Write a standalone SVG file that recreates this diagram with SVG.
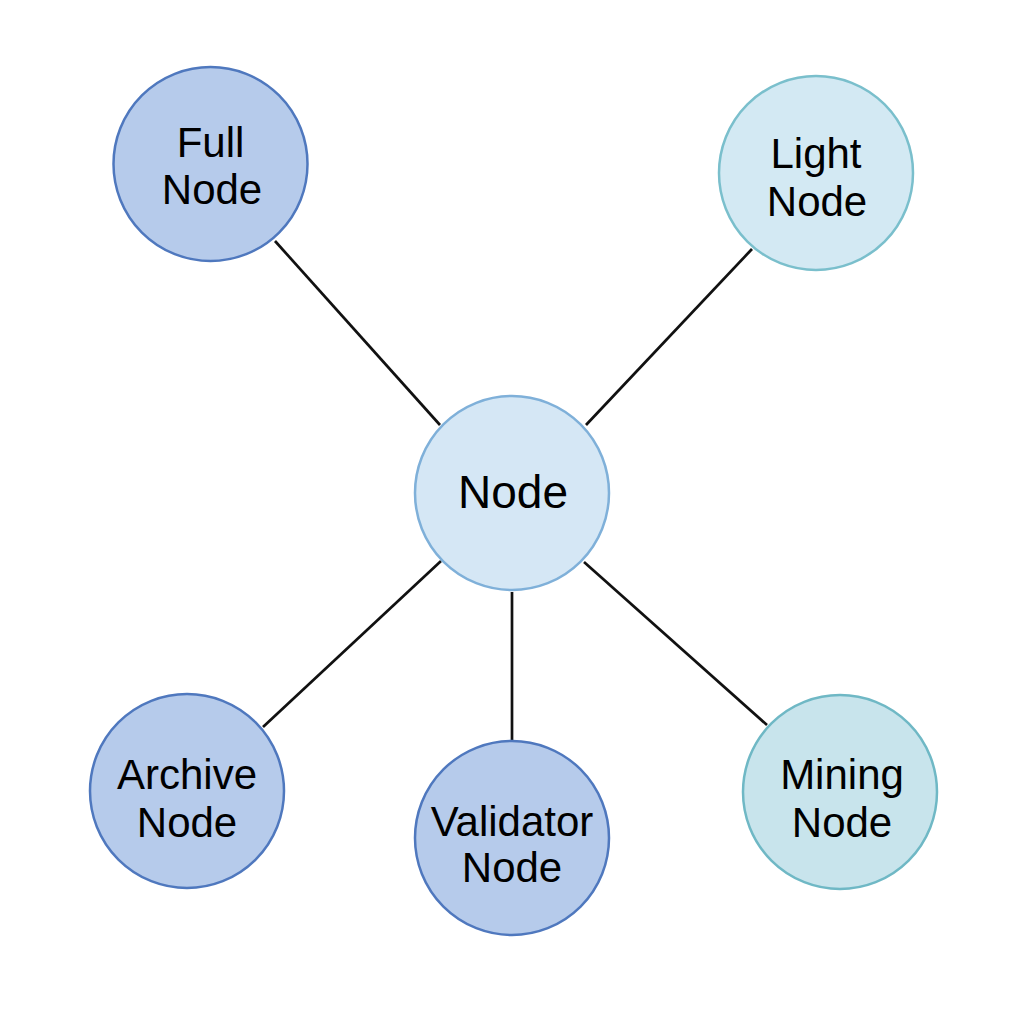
<svg xmlns="http://www.w3.org/2000/svg" width="1024" height="1024" viewBox="0 0 1024 1024">
<style>
.edge{stroke:#111;stroke-width:2.7;fill:none}
.lbl{font-family:"Liberation Sans",Arial,sans-serif;font-size:42px;fill:#000;text-anchor:middle}
.blue{fill:#b6cbeb;stroke:#4f78be;stroke-width:2.5}
.teal{fill:#d3e9f3;stroke:#7abfcc;stroke-width:2.5}
.mint{fill:#c8e4ec;stroke:#6fb8c5;stroke-width:2.5}
.center{fill:#d5e7f5;stroke:#7fb0d9;stroke-width:2.5}
</style>
<rect width="1024" height="1024" fill="#fff"/>
<g id="connectors">
<line class="edge" x1="275" y1="241" x2="440" y2="425"/>
<line class="edge" x1="752" y1="249" x2="586" y2="425"/>
<line class="edge" x1="263" y1="727" x2="441" y2="561"/>
<line class="edge" x1="512" y1="592" x2="512" y2="741"/>
<line class="edge" x1="584" y1="562" x2="767" y2="725"/>
</g>
<g id="full-node">
<circle class="blue" cx="210.5" cy="164" r="97"/>
<text class="lbl" x="210.5" y="157">Full</text>
<text class="lbl" x="212" y="204">Node</text>
</g>
<g id="light-node">
<circle class="teal" cx="816" cy="173" r="97"/>
<text class="lbl" x="816" y="168">Light</text>
<text class="lbl" x="817" y="216">Node</text>
</g>
<g id="node">
<circle class="center" cx="512" cy="493" r="97"/>
<text class="lbl" x="513" y="508" style="font-size:46px">Node</text>
</g>
<g id="archive-node">
<circle class="blue" cx="187" cy="791" r="97"/>
<text class="lbl" x="187" y="789">Archive</text>
<text class="lbl" x="187" y="837">Node</text>
</g>
<g id="validator-node">
<circle class="blue" cx="512" cy="838" r="97"/>
<text class="lbl" x="512" y="836">Validator</text>
<text class="lbl" x="512" y="882">Node</text>
</g>
<g id="mining-node">
<circle class="mint" cx="840" cy="792" r="97"/>
<text class="lbl" x="842" y="789">Mining</text>
<text class="lbl" x="842" y="837">Node</text>
</g>
</svg>
